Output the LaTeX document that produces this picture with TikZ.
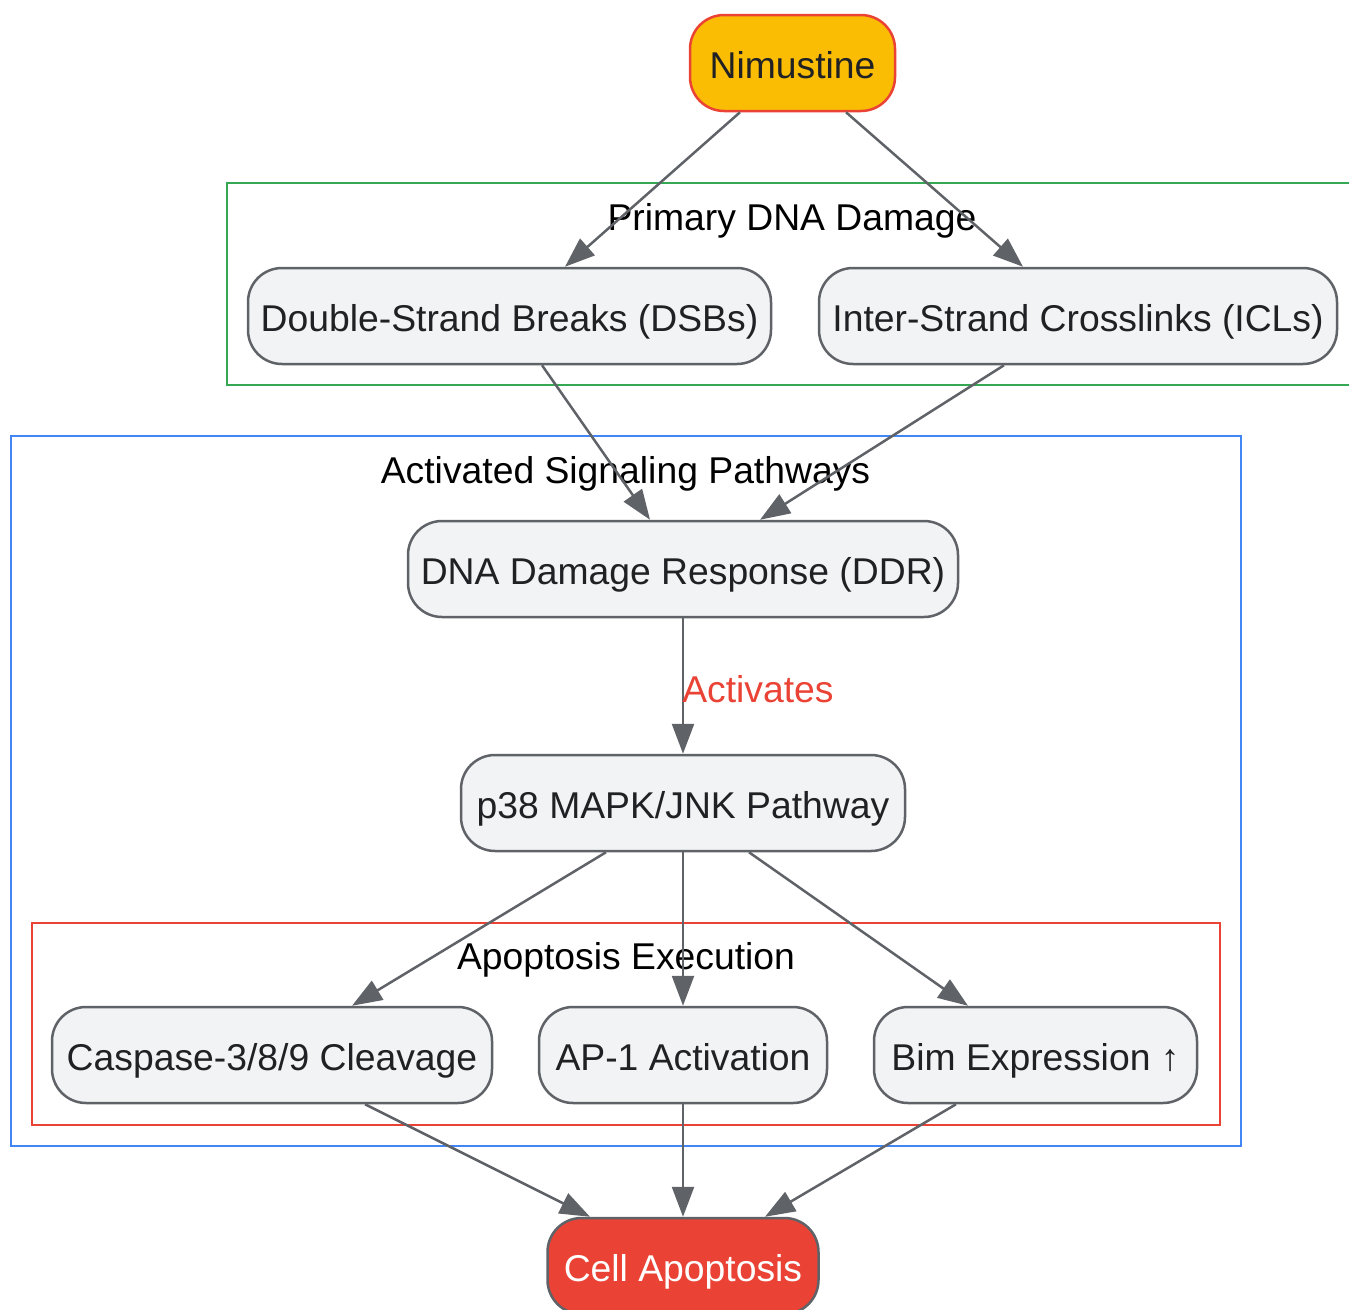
\documentclass[tikz,border=0pt]{standalone}
\usepackage{fontspec}
\setmainfont{Liberation Sans}
\usetikzlibrary{arrows.meta}
\definecolor{edgegray}{HTML}{5F6368}
\definecolor{nodefill}{HTML}{F1F3F4}
\definecolor{txt}{HTML}{202124}
\definecolor{gyellow}{HTML}{FBBC04}
\definecolor{gred}{HTML}{EA4335}
\definecolor{ggreen}{HTML}{34A853}
\definecolor{gblue}{HTML}{4285F4}
\tikzset{
  box/.style={draw=edgegray, line width=2.5pt, fill=nodefill, rounded corners=34pt,
    minimum height=96pt, inner sep=0pt, text=txt, font=\fontsize{37.3}{44}\selectfont,
    text height=35pt, text depth=4pt},
  edge/.style={draw=edgegray, line width=2.5pt, -{Triangle[length=30pt,width=22pt]}},
  cluster/.style={line width=2.5pt},
  clabel/.style={font=\fontsize{37.3}{44}\selectfont, text=black, inner sep=0pt, anchor=base}
}
\begin{document}
\begin{tikzpicture}[x=1pt,y=-1pt]
\useasboundingbox (0,0) rectangle (1349,1309);
\clip (0,0) rectangle (1349,1309);
% clusters
\draw[cluster, draw=ggreen] (227,183) rectangle (1360,385);
\draw[cluster, draw=gblue] (11,436) rectangle (1241,1146);
\draw[cluster, draw=gred] (32,923) rectangle (1220,1125);
\node[clabel] (lgreen) at (792,230) {Primary DNA Damage};
\node[clabel] (lblue) at (625.5,483) {Activated Signaling Pathways};
\node[clabel] (lred) at (626,969) {Apoptosis Execution};
% nodes
\node[box, fill=gyellow, draw=gred, minimum width=205pt] (nim) at (792.5,63) {Nimustine};
\node[box, minimum width=523pt] (dsb) at (509.5,316) {Double-Strand Breaks (DSBs)};
\node[box, minimum width=518pt] (icl) at (1078,316) {Inter-Strand Crosslinks (ICLs)};
\node[box, minimum width=550pt] (ddr) at (683,569) {DNA Damage Response (DDR)};
\node[box, minimum width=444pt] (p38) at (683,803) {p38 MAPK/JNK Pathway};
\node[box, minimum width=440pt] (casp) at (272,1055) {Caspase-3/8/9 Cleavage};
\node[box, minimum width=288pt] (ap1) at (683,1055) {AP-1 Activation};
\node[box, minimum width=323pt] (bim) at (1035.5,1055) {Bim Expression ↑};
\node[box, fill=gred, text=white, minimum width=271pt] (apo) at (683,1266) {Cell Apoptosis};
% edges
\draw[edge] ([xshift=-52.5pt]nim.south) -- ([xshift=55.5pt]dsb.north);
\draw[edge] ([xshift=53.5pt]nim.south) -- ([xshift=-55pt]icl.north);
\draw[edge] ([xshift=32.5pt]dsb.south) -- ([xshift=-33pt]ddr.north);
\draw[edge] ([xshift=-74pt]icl.south) -- ([xshift=77pt]ddr.north);
\draw[edge] (ddr.south) -- node[pos=0.52, right=-2pt, text=gred, font=\fontsize{37.3}{44}\selectfont, inner sep=0pt] (lact) {Activates} (p38.north);
\draw[edge] ([xshift=-77pt]p38.south) -- ([xshift=80pt]casp.north);
\draw[edge] (p38.south) -- (ap1.north);
\draw[edge] ([xshift=66pt]p38.south) -- ([xshift=-67.5pt]bim.north);
\draw[edge] ([xshift=93pt]casp.south) -- ([xshift=-93pt]apo.north);
\draw[edge] (ap1.south) -- (apo.north);
\draw[edge] ([xshift=-79.5pt]bim.south) -- ([xshift=82pt]apo.north);
\end{tikzpicture}
\end{document}
